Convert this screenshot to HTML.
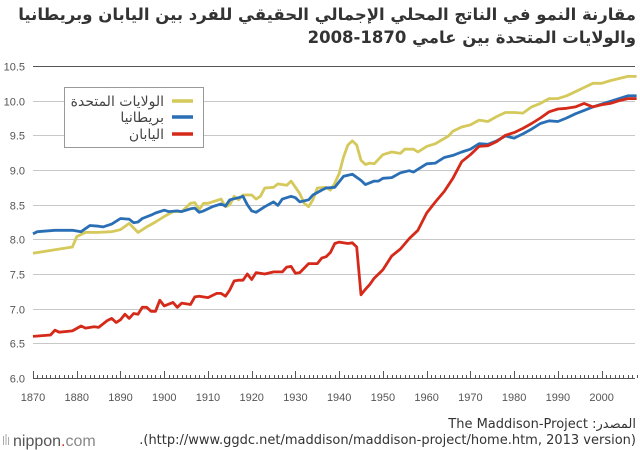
<!DOCTYPE html>
<html><head><meta charset="utf-8">
<style>
html,body{margin:0;padding:0;background:#fff;}
body{position:relative;width:640px;height:450px;overflow:hidden;}
svg{display:block;font-family:"Liberation Sans","DejaVu Sans",sans-serif;position:absolute;left:0;top:0;}
.ar{font-family:"DejaVu Sans","Liberation Sans",sans-serif;}
.title{position:absolute;right:4px;top:3px;width:636px;direction:rtl;text-align:right;font-family:"DejaVu Sans",sans-serif;font-weight:bold;font-size:16.5px;line-height:23px;color:#333;white-space:nowrap;}
.src{position:absolute;right:4px;width:630px;text-align:right;font-family:"DejaVu Sans",sans-serif;font-size:13px;color:#333;white-space:nowrap;}
</style></head>
<body>
<svg id="chart" width="640" height="450" viewBox="0 0 640 450">
  <g id="grid"></g>
  <g id="axes"></g>
  <g id="series"></g>
  <g>
    <rect x="64.5" y="87.5" width="139" height="60" fill="#fff" stroke="#999" stroke-width="1"/>
    <line x1="172" y1="101" x2="193" y2="101" stroke="#d4c95a" stroke-width="3.5"/>
    <text class="ar" x="164" y="106" text-anchor="end" font-size="14" fill="#444">الولايات المتحدة</text>
    <line x1="172" y1="117" x2="193" y2="117" stroke="#2a6fb5" stroke-width="3.5"/>
    <text class="ar" x="164" y="122" text-anchor="end" font-size="14" fill="#444">بريطانيا</text>
    <line x1="172" y1="134" x2="193" y2="134" stroke="#d52a1a" stroke-width="3.5"/>
    <text class="ar" x="164" y="139" text-anchor="end" font-size="14" fill="#444">اليابان</text>
  </g>
  <g>
    <rect x="3" y="436" width="1" height="9" fill="#aaa"/><rect x="5.5" y="434" width="1" height="11" fill="#aaa"/><rect x="8" y="437" width="1" height="8" fill="#aaa"/>
    <text x="13" y="446" font-size="16" fill="#555">nippon<tspan fill="#d52a1a">.</tspan><tspan fill="#888">com</tspan></text>
  </g>
</svg>
<div class="title">مقارنة النمو في الناتج المحلي الإجمالي الحقيقي للفرد بين اليابان وبريطانيا<br>والولايات المتحدة بين عامي 1870-2008</div>
<div class="src" style="top:417px;direction:rtl;">المصدر: The Maddison-Project</div>
<div class="src" style="top:433px;direction:ltr;">.(http://www.ggdc.net/maddison/maddison-project/home.htm, 2013 version)</div>
<script>
const yTicks = [6.0, 6.5, 7.0, 7.5, 8.0, 8.5, 9.0, 9.5, 10.0, 10.5];
const xTickYears = [1870, 1880, 1890, 1900, 1910, 1920, 1930, 1940, 1950, 1960, 1970, 1980, 1990, 2000];

const usYears = [1870,1875,1879,1880,1882,1885,1888,1890,1892,1894,1896,1898,1900,1902,1904,1906,1907,1908,1909,1910,1913,1914,1915,1916,1917,1918,1920,1921,1922,1923,1925,1926,1928,1929,1931,1932,1933,1934,1935,1937,1938,1939,1940,1941,1942,1943,1944,1945,1946,1947,1948,1950,1952,1954,1955,1957,1958,1960,1962,1965,1966,1968,1970,1972,1974,1976,1978,1980,1982,1984,1986,1988,1990,1992,1994,1996,1998,2000,2002,2004,2006,2008];
const usValues = [7.80,7.85,7.89,8.04,8.10,8.10,8.11,8.14,8.23,8.10,8.18,8.25,8.33,8.40,8.40,8.52,8.53,8.43,8.52,8.52,8.58,8.47,8.50,8.62,8.57,8.64,8.64,8.58,8.62,8.74,8.75,8.80,8.78,8.84,8.66,8.52,8.47,8.57,8.74,8.75,8.71,8.81,8.95,9.19,9.36,9.42,9.36,9.14,9.08,9.10,9.09,9.22,9.26,9.24,9.30,9.30,9.26,9.34,9.38,9.49,9.56,9.62,9.65,9.72,9.70,9.77,9.83,9.83,9.82,9.91,9.96,10.03,10.03,10.07,10.13,10.19,10.25,10.25,10.29,10.32,10.35,10.35];

const ukYears = [1870,1871,1875,1879,1881,1883,1885,1886,1888,1890,1892,1893,1894,1895,1897,1898,1900,1901,1903,1904,1906,1907,1908,1909,1911,1913,1914,1915,1917,1918,1919,1920,1921,1923,1925,1926,1927,1929,1930,1931,1933,1934,1936,1937,1939,1941,1943,1945,1946,1948,1949,1950,1952,1954,1956,1957,1960,1962,1964,1966,1968,1970,1972,1974,1976,1978,1980,1982,1984,1986,1988,1990,1992,1994,1996,1998,2000,2002,2004,2006,2008];
const ukValues = [8.08,8.11,8.13,8.13,8.11,8.20,8.19,8.18,8.22,8.30,8.29,8.24,8.25,8.30,8.35,8.38,8.42,8.40,8.41,8.40,8.44,8.45,8.39,8.41,8.47,8.51,8.48,8.57,8.60,8.62,8.50,8.41,8.39,8.47,8.54,8.49,8.58,8.62,8.60,8.54,8.57,8.64,8.71,8.74,8.75,8.91,8.94,8.85,8.79,8.84,8.84,8.88,8.89,8.96,8.99,8.97,9.09,9.10,9.18,9.21,9.26,9.30,9.38,9.37,9.42,9.49,9.46,9.52,9.59,9.67,9.71,9.70,9.75,9.81,9.86,9.91,9.95,9.99,10.03,10.07,10.07];

const jpYears = [1870,1874,1875,1876,1879,1881,1882,1884,1885,1887,1888,1889,1890,1891,1892,1893,1894,1895,1896,1897,1898,1899,1900,1902,1903,1904,1906,1907,1908,1910,1912,1913,1914,1915,1916,1917,1918,1919,1920,1921,1923,1925,1927,1928,1929,1930,1931,1933,1935,1936,1937,1938,1939,1940,1942,1943,1944,1945,1946,1947,1948,1950,1952,1954,1956,1958,1960,1962,1964,1966,1968,1970,1972,1974,1976,1978,1980,1982,1984,1986,1988,1990,1992,1994,1996,1998,2000,2002,2004,2006,2008];
const jpValues = [6.60,6.62,6.69,6.66,6.68,6.75,6.72,6.74,6.73,6.83,6.86,6.80,6.84,6.92,6.86,6.93,6.92,7.02,7.02,6.96,6.96,7.12,7.04,7.09,7.02,7.08,7.06,7.17,7.18,7.16,7.22,7.22,7.18,7.27,7.40,7.41,7.41,7.50,7.42,7.52,7.50,7.53,7.53,7.60,7.61,7.51,7.52,7.65,7.65,7.73,7.75,7.81,7.94,7.96,7.94,7.95,7.89,7.20,7.28,7.35,7.44,7.56,7.76,7.86,8.01,8.13,8.38,8.54,8.69,8.88,9.12,9.22,9.34,9.35,9.41,9.50,9.54,9.60,9.67,9.75,9.84,9.88,9.89,9.91,9.96,9.91,9.94,9.96,10.00,10.03,10.03];

const X0 = 33, X1 = 635, Y0 = 378, Ytop = 66;
function xScale(yr){ return X0 + (yr - 1870) * 4.374; }
function yScale(v){ return Y0 - (v - 6.0) / 4.5 * (Y0 - Ytop); }
const NS = "http://www.w3.org/2000/svg";
function mk(tag, attrs){ const e = document.createElementNS(NS, tag); for (const k in attrs) e.setAttribute(k, attrs[k]); return e; }

const grid = document.getElementById('grid');
yTicks.forEach(function(v){
  const y = Math.round(yScale(v)) + 0.5;
  if (v > 6.0) {
    const ln = mk('line', {x1: X0, x2: X1, y1: y, y2: y, stroke: v === 10.5 ? '#555' : '#c8c8c8', 'stroke-width': 1});
    
    
    grid.appendChild(ln);
  }
  const t = mk('text', {x: 25, y: y + 4, 'text-anchor': 'end', 'font-size': 11, fill: '#555'});
  t.textContent = v.toFixed(1);
  
  
  grid.appendChild(t);
});

const axes = document.getElementById('axes');
const base = mk('line', {x1: X0, x2: X1, y1: Y0 + 0.5, y2: Y0 + 0.5, stroke: '#555', 'stroke-width': 1});


axes.appendChild(base);
for (let yr = 1870; yr <= 2008; yr++) {
  const x = Math.round(xScale(yr)) + 0.5;
  const major = yr % 10 === 0;
  const tk = mk('line', {x1: x, x2: x, y1: Y0, y2: Y0 - (major ? 7 : 3), stroke: '#555', 'stroke-width': 1});
  
  
  axes.appendChild(tk);
}
xTickYears.forEach(function(yr){
  const t = mk('text', {x: xScale(yr), y: 401, 'text-anchor': 'middle', 'font-size': 11, fill: '#555'});
  t.textContent = yr;
  
  
  axes.appendChild(t);
});

const series = document.getElementById('series');
function drawLine(years, vals, color, name){
  const d = years.map(function(yr, i){ return (i ? 'L' : 'M') + xScale(yr).toFixed(1) + ',' + yScale(vals[i]).toFixed(1); }).join('');
  const p = mk('path', {d: d, fill: 'none', stroke: color, 'stroke-width': 2.8, 'stroke-linejoin': 'round'});
  
  
  series.appendChild(p);
}
drawLine(usYears, usValues, '#d4c95a', 'us-line');
drawLine(ukYears, ukValues, '#2a6fb5', 'uk-line');
drawLine(jpYears, jpValues, '#d52a1a', 'japan-line');
</script>
</body></html>
